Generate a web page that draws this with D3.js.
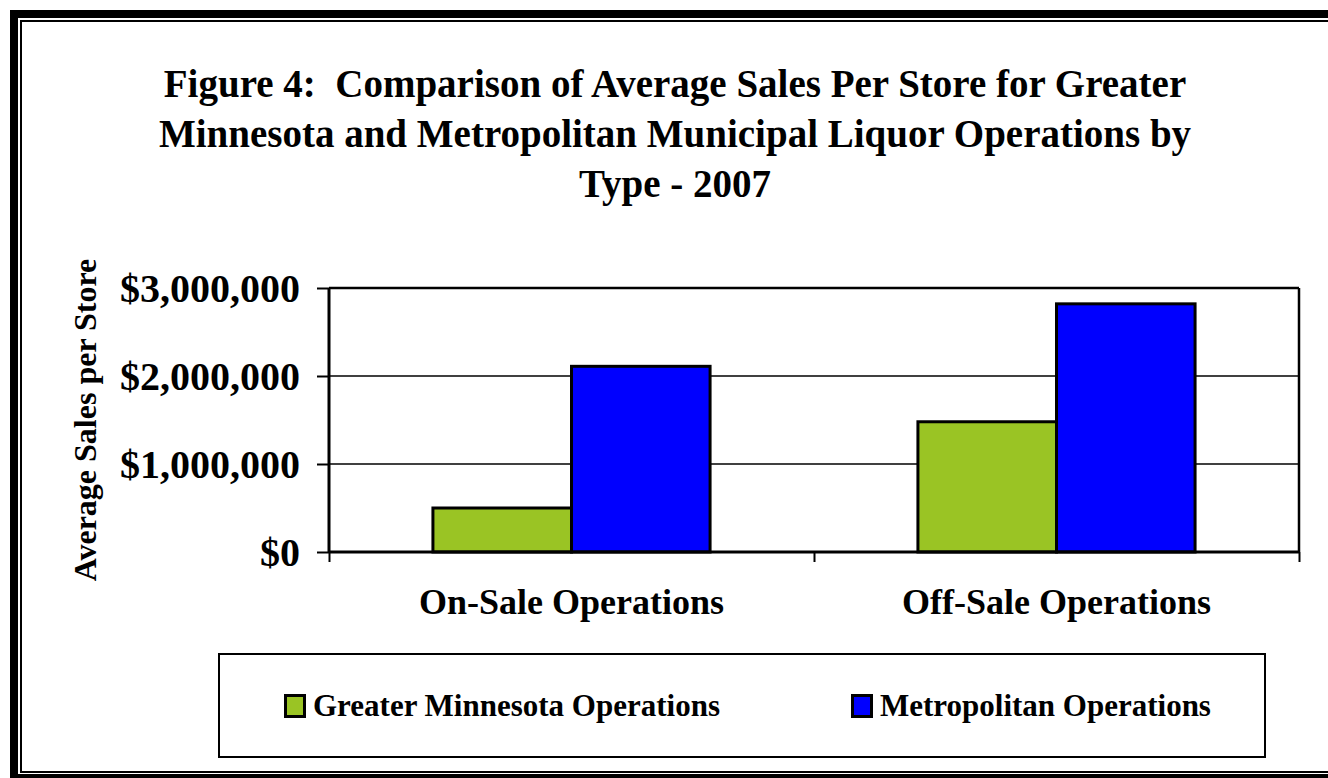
<!DOCTYPE html>
<html>
<head>
<meta charset="utf-8">
<script src="https://cdn.jsdelivr.net/npm/d3@7"></script>
<style>
  body { margin: 0; background: #fff; }
  svg { display: block; font-family: "Liberation Serif", "Times New Roman", serif; font-weight: bold; }
</style>
</head>
<body>
<svg class="chart" width="1328" height="778"></svg>
<script>
const categories = ["On-Sale Operations", "Off-Sale Operations"];
const seriesNames = ["Greater Minnesota Operations", "Metropolitan Operations"];
const seriesColors = ["#9ac424", "#0000ff"];
const greaterMN = [500000, 1480000];
const metro = [2110000, 2820000];
const yTicks = [0, 1000000, 2000000, 3000000];
const titleLines = [
  "Figure 4:  Comparison of Average Sales Per Store for Greater",
  "Minnesota and Metropolitan Municipal Liquor Operations by",
  "Type - 2007"
];

const svg = d3.select(".chart");

// frame round the whole figure
svg.append("rect").attr("x", 10).attr("y", 10).attr("width", 8).attr("height", 768).attr("fill", "#000");
svg.append("rect").attr("x", 10).attr("y", 10).attr("width", 1318).attr("height", 8).attr("fill", "#000");
svg.append("rect").attr("x", 10).attr("y", 774).attr("width", 1318).attr("height", 4).attr("fill", "#000");
svg.append("path")
  .attr("d", "M1328,21 H21 V772 H1328")
  .attr("fill", "none").attr("stroke", "#000").attr("stroke-width", 2);

// title
svg.append("g")
  .selectAll("text")
  .data(titleLines)
  .enter()
  .append("text")
  .attr("x", 675)
  .attr("y", (d, i) => 97 + i * 50)
  .attr("text-anchor", "middle")
  .attr("font-size", 39)
  .style("white-space", "pre")
  .text(d => d);

const plot = { left: 329, top: 288, right: 1299, bottom: 552 };

const x0 = d3.scaleBand().domain(categories).range([plot.left, plot.right]).padding(0);
// gap width 150% -> 0.75 of a bar on each side of the pair
const x1 = d3.scaleBand().domain(seriesNames).range([0, x0.bandwidth()]).paddingInner(0).paddingOuter(0.75);
const y = d3.scaleLinear().domain([0, 3000000]).range([plot.bottom, plot.top]);

// gridlines
svg.append("g")
  .selectAll("line")
  .data(yTicks.filter(d => d > 0))
  .enter()
  .append("line")
  .attr("x1", plot.left).attr("x2", plot.right)
  .attr("y1", d => y(d)).attr("y2", d => y(d))
  .attr("stroke", "#000")
  .attr("stroke-width", d => d === 3000000 ? 2.5 : 1.5);

// right border of plot area
svg.append("line")
  .attr("x1", plot.right).attr("x2", plot.right)
  .attr("y1", plot.top).attr("y2", plot.bottom)
  .attr("stroke", "#000").attr("stroke-width", 2.5);

// bars
const rows = categories.map((c, i) => ({ cat: c, values: [greaterMN[i], metro[i]] }));
const groups = svg.append("g")
  .selectAll("g")
  .data(rows)
  .enter()
  .append("g")
  .attr("transform", d => `translate(${x0(d.cat)},0)`);

groups.selectAll("rect")
  .data(d => d.values.map((v, j) => ({ name: seriesNames[j], v, j })))
  .enter()
  .append("rect")
  .attr("x", d => x1(d.name))
  .attr("width", x1.bandwidth())
  .attr("y", d => y(d.v))
  .attr("height", d => y(0) - y(d.v))
  .attr("fill", d => seriesColors[d.j])
  .attr("stroke", "#000")
  .attr("stroke-width", 3);

// y axis
const yAxis = svg.append("g")
  .attr("transform", `translate(${plot.left},0)`)
  .call(d3.axisLeft(y).tickValues(yTicks).tickSize(12).tickPadding(17)
    .tickFormat(d => "$" + d3.format(",")(d)));
yAxis.select(".domain").attr("stroke-width", 3).attr("d", `M0,${plot.top}V${plot.bottom}`);
yAxis.selectAll(".tick line").attr("stroke-width", 2);
yAxis.selectAll("text")
  .attr("font-size", 40)
  .attr("font-family", "Liberation Serif")
  .attr("font-weight", "bold")
  .attr("fill", "#000")
  .attr("dy", "0.34em");

// x axis
const xAxis = svg.append("g")
  .attr("transform", `translate(0,${plot.bottom})`)
  .call(d3.axisBottom(d3.scaleLinear().domain([0, 2]).range([plot.left, plot.right]))
    .tickValues([0, 1, 2]).tickSize(10).tickFormat(""));
xAxis.select(".domain").attr("stroke-width", 3).attr("d", `M${plot.left},0H${plot.right}`);
xAxis.selectAll(".tick line").attr("stroke-width", 2);

svg.append("g")
  .selectAll("text")
  .data(categories)
  .enter()
  .append("text")
  .attr("x", d => x0(d) + x0.bandwidth() / 2)
  .attr("y", 614)
  .attr("text-anchor", "middle")
  .attr("font-size", 36)
  .text(d => d);

// y axis title
svg.append("text")
  .attr("transform", "translate(96,420) rotate(-90)")
  .attr("text-anchor", "middle")
  .attr("font-size", 32)
  .text("Average Sales per Store");

// legend
svg.append("rect")
  .attr("x", 219).attr("y", 654).attr("width", 1046).attr("height", 103)
  .attr("fill", "#fff").attr("stroke", "#000").attr("stroke-width", 2);

const legendX = [284, 851];
const legend = svg.append("g")
  .selectAll("g")
  .data(seriesNames)
  .enter()
  .append("g")
  .attr("transform", (d, i) => `translate(${legendX[i]},694)`);
legend.append("rect")
  .attr("x", 1.5).attr("y", 1.5).attr("width", 19).attr("height", 21)
  .attr("fill", (d, i) => seriesColors[i])
  .attr("stroke", "#000").attr("stroke-width", 3);
legend.append("text")
  .attr("x", 29).attr("y", 22)
  .attr("font-size", 31)
  .text(d => d);
</script>
</body>
</html>
